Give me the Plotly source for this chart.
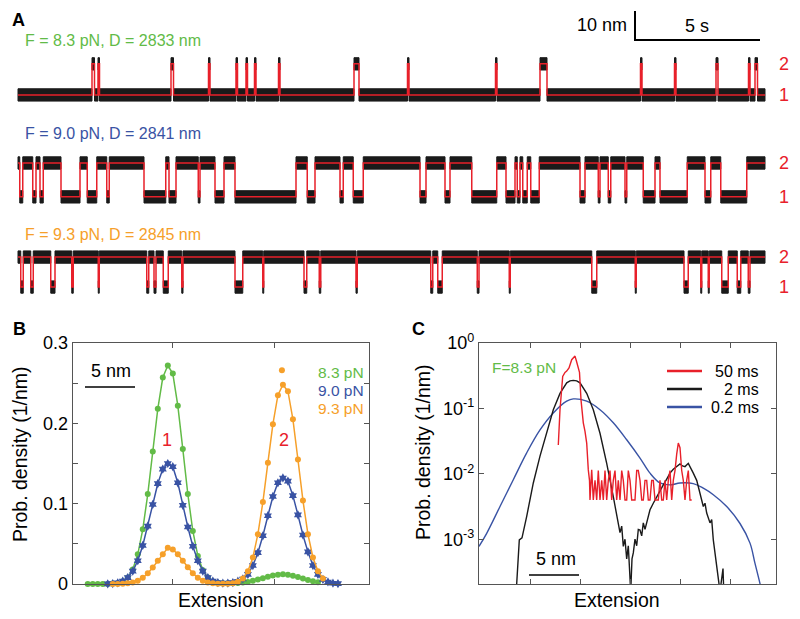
import plotly.graph_objects as go

W, H = 800, 619
FONT = "Arial, Liberation Sans, sans-serif"
RED = "#e8202a"
GREEN = "#62bb47"
BLUE = "#3953a4"
ORANGE = "#f6a02a"
BLACK = "#1a1a1a"
AXC = "#555555"

# ---------------- Panel A data (time in s, extension step in nm) ----------------
trace_duration = 29.88
trace_labels = ["F = 8.3 pN, D = 2833 nm", "F = 9.0 pN, D = 2841 nm", "F = 9.3 pN, D = 2845 nm"]
state_step_nm = [11.1, 12.1, 10.7]

# 8.3 pN: intervals spent in state 2 (otherwise state 1)
t1_state2_intervals = [
    (2.96, 3.06), (3.20, 3.26), (6.12, 6.22), (7.62, 7.68), (8.72, 8.78), (9.12, 9.18),
    (9.46, 9.52), (10.42, 10.48), (13.44, 13.64), (15.58, 15.64), (19.10, 19.16),
    (20.88, 21.16), (24.90, 24.96), (26.26, 26.32), (27.92, 28.00), (29.22, 29.28),
    (29.48, 29.58),
]
# 9.0 pN: switching times, starting in state 2
t2_switch_times = [
    0.07, 0.19, 0.59, 0.72, 0.88, 1.01, 1.72, 2.48, 2.77, 3.15, 3.55, 3.65, 5.04, 5.91,
    6.04, 6.32, 7.21, 7.28, 7.88, 8.24, 8.68, 11.12, 11.57, 11.88, 12.88, 13.01, 13.41,
    13.81, 16.08, 16.32, 17.08, 17.28, 18.15, 19.15, 19.52, 19.88, 19.97, 20.08, 20.19,
    20.37, 20.51, 20.85, 22.48, 22.68, 23.21, 23.28, 23.61, 23.71, 24.28, 24.35, 25.01,
    25.48, 25.68, 26.77, 27.48, 27.71, 28.11, 29.15,
]
# 9.3 pN: intervals spent in state 1 (otherwise state 2)
t3_state1_intervals = [
    (0.11, 0.21), (0.51, 0.61), (1.31, 1.48), (2.15, 2.21), (3.21, 3.25), (5.15, 5.23),
    (5.44, 5.52), (5.81, 6.01), (6.55, 6.60), (8.68, 8.99), (9.79, 9.83), (11.44, 11.55),
    (12.05, 12.11), (13.52, 13.57), (16.51, 16.59), (16.79, 16.97), (18.37, 18.44),
    (19.65, 19.69), (22.95, 23.15), (24.69, 24.73), (26.64, 26.81), (27.31, 27.35),
    (27.61, 27.65), (28.15, 28.41), (28.77, 28.91), (29.21, 29.28),
]

# ---------------- Panel B data (extension in nm, prob. density 1/nm) ----------------
b_green_x = [1.5 + 0.5 * i for i in range(47)]
b_green_y = [0, 0, 0, 0, 0, 0.0005, 0.001, 0.003, 0.008, 0.018, 0.037, 0.068, 0.112, 0.165,
             0.218, 0.257, 0.272, 0.262, 0.222, 0.168, 0.112, 0.066, 0.035, 0.017, 0.008,
             0.003, 0.0015, 0.001, 0.0008, 0.001, 0.0013, 0.0018, 0.0026, 0.004, 0.0055,
             0.0073, 0.009, 0.0106, 0.0116, 0.012, 0.0115, 0.0104, 0.0088, 0.007, 0.005,
             0.0035, 0.0022]
b_blue_x = [3.5 + 0.5 * i for i in range(47)]
b_blue_y = [0.0002, 0.0006, 0.0015, 0.0036, 0.008, 0.016, 0.029, 0.048, 0.072, 0.099, 0.125,
            0.143, 0.150, 0.146, 0.126, 0.098, 0.071, 0.047, 0.029, 0.016, 0.008, 0.0037,
            0.0017, 0.001, 0.0012, 0.0018, 0.0035, 0.0063, 0.012, 0.023, 0.039, 0.060, 0.085,
            0.109, 0.126, 0.132, 0.128, 0.110, 0.086, 0.061, 0.040, 0.023, 0.012, 0.0058,
            0.0025, 0.001, 0.0004]
b_orange_x = [4.0 + 0.5 * i for i in range(43)]
b_orange_y = [0, 0.0001, 0.0003, 0.0009, 0.002, 0.0041, 0.0077, 0.0133, 0.0206, 0.029, 0.037,
              0.045, 0.043, 0.037, 0.029, 0.021, 0.0133, 0.0077, 0.0041, 0.002, 0.001, 0.0004,
              0.0003, 0.0003, 0.001, 0.0028, 0.007, 0.016, 0.033, 0.062, 0.102, 0.151, 0.199,
              0.235, 0.248, 0.240, 0.205, 0.155, 0.104, 0.062, 0.033, 0.016, 0.007]
b_orange_top_x = [20.9]
b_orange_top_y = [0.266]
b_legend = ["8.3 pN", "9.0 pN", "9.3 pN"]

# ---------------- Panel C data (extension in nm, log10 prob. density) ----------------
c_blue_x = [-0.1, 0.67, 2.0, 3.33, 4.67, 6.0, 7.33, 8.67, 9.33, 10.67, 12.0, 13.33, 14.67,
            16.0, 17.0, 18.0, 19.0, 20.0, 21.33, 22.33, 23.33, 24.67, 26.0, 27.0, 27.5, 28.0,
            28.3]
c_blue_log10 = [-3.11, -2.91, -2.5, -2.09, -1.68, -1.33, -1.07, -0.89, -0.855, -0.89, -1.02,
                -1.22, -1.48, -1.76, -1.99, -2.14, -2.17, -2.14, -2.15, -2.22, -2.32, -2.5,
                -2.76, -3.06, -3.37, -3.68, -3.9]
c_black_x = [3.6, 3.67, 3.93, 4.2, 4.67, 5.33, 6.0, 6.67, 7.33, 8.0, 8.67, 9.0, 9.33, 9.67,
             10.0, 10.67, 11.33, 12.0, 12.67, 13.33, 13.83, 14.0, 14.17, 14.33, 14.5, 14.67,
             14.83, 15.0, 15.07, 15.2, 15.33, 15.5, 15.67, 15.83, 16.0, 16.17, 16.33, 16.5,
             16.67, 17.0, 17.33, 17.67, 18.0, 18.33, 18.67, 19.0, 19.33, 19.67, 20.0, 20.25,
             20.5, 20.83, 21.0, 21.33, 21.67, 21.83, 22.0, 22.33, 22.5, 22.67, 23.0, 23.17,
             23.33, 23.67, 24.0, 24.3, 24.4]
c_black_log10 = [-4.2, -3.68, -3.01, -2.98, -2.65, -2.14, -1.73, -1.38, -1.02, -0.77, -0.61,
                 -0.58, -0.571, -0.58, -0.61, -0.77, -1.02, -1.38, -1.84, -2.35, -2.76, -2.9,
                 -2.8, -3.11, -3.0, -3.3, -3.1, -3.57, -3.8, -3.3, -3.21, -3.0, -3.1, -2.85,
                 -2.86, -2.95, -2.75, -2.85, -2.76, -2.55, -2.45, -2.35, -2.25, -2.17, -2.08,
                 -1.99, -1.93, -1.89, -1.85, -1.88, -1.89, -1.84, -1.9, -1.99, -2.1, -2.19,
                 -2.3, -2.5, -2.45, -2.6, -2.75, -2.7, -3.01, -3.37, -3.8, -3.45, -3.9]
c_red_x = [7.83, 8.0, 8.27, 8.5, 8.67, 8.9, 9.17, 9.35, 9.5, 9.65, 9.73, 9.85, 9.95, 10.1,
           10.33, 10.5, 10.67, 10.83, 10.95, 11.0, 11.17, 11.33, 11.5, 11.67, 11.83, 12.0,
           12.17, 12.33, 12.5, 12.67, 12.83, 13.0, 13.17, 13.33, 13.5, 13.67, 13.83, 14.0,
           14.17, 14.33, 14.5, 14.67, 14.83, 15.0, 15.17, 15.33, 15.5, 15.67, 15.83, 16.0,
           16.17, 16.33, 16.5, 16.67, 16.83, 17.0, 17.17, 17.33, 17.5, 17.67, 17.83, 18.0,
           18.17, 18.33, 18.5, 18.67, 18.83, 19.0, 19.17, 19.33, 19.5, 19.67, 19.83, 20.0,
           20.17, 20.33, 20.5, 20.67, 20.83, 21.0, 21.17]
c_red_log10 = [-1.56, -1.02, -0.51, -0.45, -0.43, -0.38, -0.255, -0.22, -0.2, -0.28, -0.33,
               -0.4, -0.45, -0.87, -1.22, -1.35, -1.53, -1.94, -2.1, -2.4, -1.94, -2.4, -2.1,
               -2.4, -1.95, -2.4, -2.1, -2.4, -1.95, -2.4, -2.1, -1.95, -2.4, -2.1, -1.95,
               -2.4, -2.1, -2.4, -1.95, -2.1, -2.4, -2.4, -1.95, -2.1, -2.4, -2.4, -2.4,
               -1.95, -1.95, -2.1, -2.4, -2.4, -2.1, -2.1, -2.4, -2.4, -2.1, -2.1, -2.4, -2.4,
               -2.4, -2.1, -2.4, -2.4, -2.1, -2.4, -2.1, -1.95, -2.4, -2.1, -1.95, -1.7,
               -1.53, -1.6, -1.95, -2.1, -2.4, -2.1, -1.95, -2.4, -2.4]
c_legend = ["50 ms", "2 ms", "0.2 ms"]

# ---------------- helpers ----------------
def px(x):
    return x / W

def py(y):
    return 1 - y / H


def segs_from_intervals(intervals, inside, outside, T):
    segs, t = [], 0.0
    for a, b in intervals:
        segs.append((t, a, outside))
        segs.append((a, b, inside))
        t = b
    segs.append((t, T, outside))
    return segs


def segs_from_switches(times, start, T):
    segs, t, s = [], 0.0, start
    for tt in times:
        segs.append((t, tt, s))
        t, s = tt, 3 - s
    segs.append((t, T, s))
    return segs


all_segs = [
    segs_from_intervals(t1_state2_intervals, 2, 1, trace_duration),
    segs_from_switches(t2_switch_times, 2, trace_duration),
    segs_from_intervals(t3_state1_intervals, 1, 2, trace_duration),
]
trace_base = [76.8, 40.4, 8.2]  # vertical placement of each trace (layout)
label_colors = [GREEN, BLUE, ORANGE]
label_y_px = [40, 133, 234]
band = 2.2

fig = go.Figure()

for k, segs in enumerate(all_segs):
    base, step = trace_base[k], state_step_nm[k]
    bx, by, rx, ry = [], [], [], []
    for t0, t1, s in segs:
        lev = base + (step if s == 2 else 0)
        bx += [t0, t1, t1, t0, t0, None]
        by += [lev - band, lev - band, lev + band, lev + band, lev - band, None]
        rx += [t0, t1]
        ry += [lev, lev]
    fig.add_trace(go.Scatter(x=bx, y=by, mode="lines", fill="toself", fillcolor=BLACK,
                             line=dict(color=BLACK, width=1), xaxis="x", yaxis="y",
                             hoverinfo="skip", showlegend=False))
    fig.add_trace(go.Scatter(x=rx, y=ry, mode="lines", line=dict(color=RED, width=1.5),
                             xaxis="x", yaxis="y", hoverinfo="skip", showlegend=False))

# ---------------- Panel B ----------------
for xs, ys, col, sym, sz in [
    (b_green_x, b_green_y, GREEN, "circle", 6),
    (b_blue_x, b_blue_y, BLUE, "hexagram", 7),
    (b_orange_x, b_orange_y, ORANGE, "circle", 6),
]:
    fig.add_trace(go.Scatter(x=xs, y=ys, mode="lines+markers", xaxis="x2", yaxis="y2",
                             line=dict(color=col, width=1.5),
                             marker=dict(color=col, symbol=sym, size=sz, line=dict(width=0)),
                             showlegend=False, cliponaxis=False))
fig.add_trace(go.Scatter(x=b_orange_top_x, y=b_orange_top_y, mode="markers", xaxis="x2",
                         yaxis="y2", marker=dict(color=ORANGE, size=6), showlegend=False))

# ---------------- Panel C ----------------
fig.add_trace(go.Scatter(x=c_blue_x, y=[10 ** v for v in c_blue_log10], mode="lines",
                         xaxis="x3", yaxis="y3", line=dict(color=BLUE, width=1.4, shape="spline"),
                         showlegend=False))
fig.add_trace(go.Scatter(x=c_black_x, y=[10 ** v for v in c_black_log10], mode="lines",
                         xaxis="x3", yaxis="y3", line=dict(color=BLACK, width=1.4),
                         showlegend=False))
fig.add_trace(go.Scatter(x=c_red_x, y=[10 ** v for v in c_red_log10], mode="lines",
                         xaxis="x3", yaxis="y3", line=dict(color=RED, width=1.4),
                         showlegend=False))

ann = []
shapes = []

def text(x, y, s, size=15, color="black", xanchor="center", bold=False, angle=0):
    ann.append(dict(x=px(x), y=py(y), xref="paper", yref="paper", text=("<b>%s</b>" % s) if bold else s,
                    showarrow=False, xanchor=xanchor, yanchor="middle", textangle=angle,
                    font=dict(family=FONT, size=size, color=color)))

def line(x0, y0, x1, y1, color="black", width=1.5):
    shapes.append(dict(type="line", xref="paper", yref="paper", x0=px(x0), y0=py(y0),
                       x1=px(x1), y1=py(y1), line=dict(color=color, width=width)))

# Panel A annotations
text(18, 20, "A", 18, bold=True)
for k in range(3):
    text(23, label_y_px[k], trace_labels[k], 16, label_colors[k], xanchor="left")
    for s in (1, 2):
        lev = trace_base[k] + (state_step_nm[k] if s == 2 else 0)
        ann.append(dict(x=30.65, y=lev, xref="x", yref="y", text=str(s), showarrow=False,
                        xanchor="center", yanchor="middle",
                        font=dict(family=FONT, size=18, color=RED)))
text(629, 25, "10 nm", 18, xanchor="right")
text(697, 26, "5 s", 18)
line(635, 11, 635, 40, width=2)
line(634, 40, 760, 40, width=2)

# Panel B annotations
text(19, 329, "B", 18, bold=True)
text(20, 454, "Prob. density (1/nm)", 19.5, angle=-90)
text(221, 600, "Extension", 19.5)
text(111, 371, "5 nm", 18)
line(85, 387, 135, 387, width=1.5)
for i, (lab, col) in enumerate(zip(b_legend, [GREEN, BLUE, ORANGE])):
    text(366, 372 + 18.3 * i, lab, 15.5, col, xanchor="right")
text(167, 440, "1", 18, RED)
text(284, 440, "2", 18, RED)

# Panel C annotations
text(418, 329, "C", 18, bold=True)
text(423, 452, "Prob. density (1/nm)", 19.5, angle=-90)
text(617, 600, "Extension", 19.5)
text(556, 559, "5 nm", 18)
line(529, 575, 579, 575, width=1.5)
text(490, 367, "F=8.3 pN", 15.5, GREEN, xanchor="left")
for i, (lab, col) in enumerate(zip(c_legend, [RED, BLACK, BLUE])):
    yy = 371 + 18 * i
    line(667, yy, 702, yy, color=col, width=2.5)
    text(761, yy, lab, 16, xanchor="right")

axis_common = dict(showline=True, linecolor=AXC, linewidth=1.3, mirror="ticks", ticks="inside",
                   ticklen=5, tickcolor=AXC, tickwidth=1.2, showgrid=False, zeroline=False,
                   automargin=False,
                   tickfont=dict(family=FONT, size=18, color="black"))

fig.update_layout(
    template="none",
    width=W, height=H, autosize=False,
    margin=dict(l=0, r=0, t=0, b=0, pad=0, autoexpand=False),
    paper_bgcolor="white", plot_bgcolor="white", showlegend=False,
    font=dict(family=FONT),
    xaxis=dict(domain=[0, 1], range=[-0.72, 31.28], visible=False, automargin=False),
    yaxis=dict(domain=[1 - 310 / H, 1], range=[0, 110.7], visible=False, automargin=False),
    xaxis2=dict(domain=[px(72.7), px(369)], range=[0, 29.6], anchor="y2",
                tickvals=[10, 20.2], showticklabels=False, **axis_common),
    yaxis2=dict(domain=[py(584), py(343)], range=[0, 0.3], anchor="x2",
                tickvals=[0, 0.1, 0.2, 0.3], ticktext=["0", "0.1", "0.2", "0.3"],
                minor=dict(tickvals=[0.05, 0.15, 0.25], ticks="inside", ticklen=5,
                           tickcolor=AXC, tickwidth=1.2),
                **axis_common),
    xaxis3=dict(domain=[px(479), px(776)], range=[-0.1, 29.6], anchor="y3",
                tickvals=[5, 10, 15, 20, 25], showticklabels=False, **axis_common),
    yaxis3=dict(domain=[py(584), py(343)], type="log", range=[-3.685, 0], anchor="x3",
                tickvals=[1, 0.1, 0.01, 0.001],
                ticktext=["10<sup>0</sup>", "10<sup>-1</sup>", "10<sup>-2</sup>", "10<sup>-3</sup>"],
                **axis_common),
    annotations=ann, shapes=shapes,
)

fig.write_html("out.html", config={"displayModeBar": False},
               post_script="document.body.style.margin='0px';document.body.style.padding='0px';")
